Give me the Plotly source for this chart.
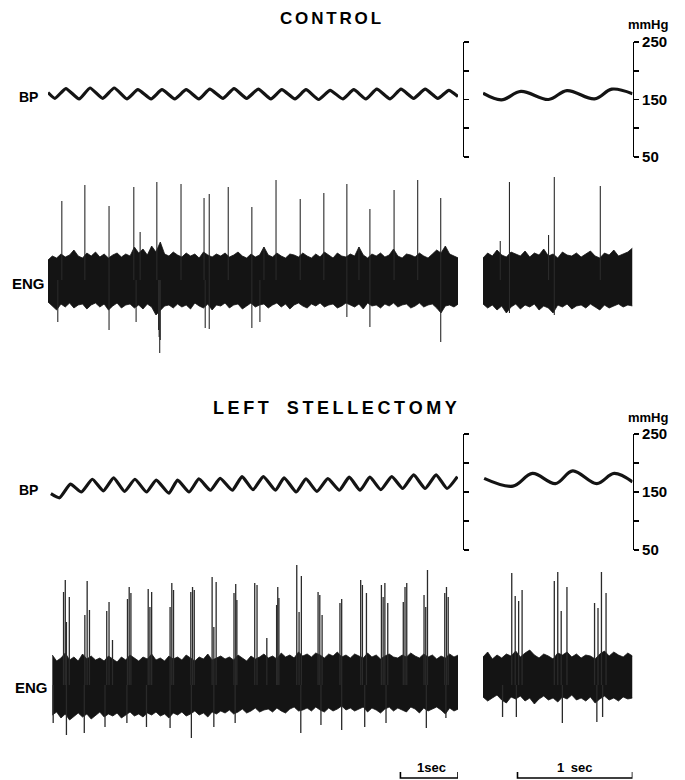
import plotly.graph_objects as go

W, H = 685, 780
def px(x): return x / W
def py(y): return 1 - y / H

# ---------------- DATA ----------------
# Blood pressure (time s, mmHg) - peaks/troughs
bp_ctrl_left_t = [0.00, 0.12, 0.31, 0.54, 0.73, 0.95, 1.15, 1.37, 1.56, 1.79, 1.98, 2.20, 2.40, 2.62, 2.81, 3.04,
                  3.23, 3.45, 3.65, 3.87, 4.06, 4.29, 4.48, 4.70, 4.90, 5.12, 5.31, 5.52, 5.71, 5.94, 6.13, 6.35,
                  6.55, 6.77, 6.96, 7.12]
bp_ctrl_left_mmhg = [162, 152, 169, 151, 170, 152, 170, 151, 167, 151, 167, 151, 167, 151, 168, 152,
                     169, 152, 168, 151, 167, 151, 167, 150, 166, 151, 167, 151, 168, 151, 168, 152,
                     168, 152, 166, 155]
bp_ctrl_right_t = [0.00, 0.16, 0.33, 0.57, 0.73, 0.97, 1.12, 1.30]
bp_ctrl_right_mmhg = [161, 149.5, 164, 150, 165.5, 151, 168, 160]

bp_ls_left_t = [0.05, 0.20, 0.39, 0.58, 0.77, 0.96, 1.14, 1.33, 1.51, 1.71, 1.88, 2.10, 2.25, 2.45, 2.62, 2.82,
                2.99, 3.20, 3.37, 3.56, 3.74, 3.95, 4.10, 4.31, 4.48, 4.67, 4.86, 5.06, 5.23, 5.42, 5.59, 5.78,
                5.97, 6.16, 6.35, 6.55, 6.74, 6.93, 7.11]
bp_ls_left_mmhg = [147, 140, 163.5, 150, 172, 152, 174.5, 151, 172, 150, 170.5, 148, 170.5, 150, 172.5, 153,
                   173.5, 153, 176.5, 154, 176.5, 153, 174.5, 150, 172.5, 151, 173, 153, 175.5, 153, 175.5, 154,
                   176.5, 156, 179.5, 156, 179.5, 156, 176.5]
bp_ls_right_t = [0.01, 0.26, 0.43, 0.63, 0.78, 0.99, 1.14, 1.30]
bp_ls_right_mmhg = [173.5, 160, 182, 164.5, 186.5, 164.5, 182, 167.5]

bp_ticks = [50, 100, 150, 200, 250]
bp_tick_labels = ["50", "", "150", "", "250"]

# ENG background activity envelopes (arbitrary units, sampled evenly)
eng_ctrl_left_upper = [20, 24, 22, 26, 23, 25, 30, 24, 22, 27,
                       24, 28, 23, 26, 22, 25, 27, 23, 26, 24,
                       33, 27, 31, 25, 34, 28, 38, 26, 24, 28,
                       25, 23, 27, 24, 26, 22, 28, 25, 23, 26,
                       24, 27, 23, 25, 28, 24, 22, 26, 23, 25,
                       33, 25, 23, 27, 24, 22, 26, 25, 23, 27,
                       24, 22, 26, 23, 28, 25, 22, 27, 24, 23,
                       26, 24, 33, 25, 22, 26, 24, 27, 23, 25,
                       31, 24, 22, 26, 25, 23, 27, 24, 22, 26,
                       30, 27, 34, 26, 24, 22]
eng_ctrl_left_lower = [-22, -26, -30, -24, -27, -23, -28, -25, -24, -29,
                       -25, -23, -27, -24, -30, -26, -23, -28, -25, -24,
                       -28, -25, -29, -24, -27, -35, -30, -26, -25, -28,
                       -24, -27, -25, -29, -23, -26, -28, -24, -30, -25,
                       -26, -23, -28, -25, -24, -29, -26, -23, -27, -25,
                       -24, -28, -25, -23, -27, -24, -29, -25, -23, -26,
                       -28, -24, -26, -23, -27, -25, -24, -28, -26, -23,
                       -25, -27, -24, -29, -23, -26, -25, -28, -24, -26,
                       -23, -27, -25, -24, -28, -26, -23, -27, -25, -24,
                       -28, -33, -26, -25, -27, -24]
eng_ctrl_right_upper = [22, 27, 24, 30, 25, 23, 28, 26, 24, 29, 23, 27, 25, 31, 24, 26, 22, 28, 25, 24,
                        27, 23, 26, 29, 24, 22, 27, 25, 30, 24, 26, 28, 32]
eng_ctrl_right_lower = [-24, -28, -25, -30, -26, -33, -27, -24, -29, -25, -27, -24, -30, -26, -28, -33, -25,
                        -27, -24, -29, -26, -25, -28, -24, -27, -30, -25, -28, -26, -24, -27, -25, -26]

eng_ls_left_upper = [30, 24, 27, 32, 25, 28, 24, 31, 26, 29,
                     25, 27, 24, 29, 26, 23, 28, 25, 30, 27,
                     24, 28, 26, 31, 25, 27, 24, 29, 26, 28,
                     25, 30, 27, 24, 28, 26, 31, 25, 27, 29,
                     26, 28, 25, 30, 27, 24, 29, 26, 28, 31,
                     27, 29, 26, 32, 28, 30, 27, 33, 29, 31,
                     28, 32, 30, 27, 31, 29, 33, 28, 30, 27,
                     31, 29, 27, 32, 28, 30, 26, 29, 31, 28,
                     27, 30, 28, 32, 29, 27, 31, 28, 30, 26,
                     29, 27, 31, 28, 30]
eng_ls_left_lower = [-30, -27, -33, -29, -35, -31, -28, -32, -29, -34,
                     -30, -27, -32, -29, -31, -28, -33, -30, -27, -31,
                     -29, -32, -28, -30, -27, -31, -29, -33, -28, -30,
                     -27, -31, -29, -26, -30, -28, -32, -27, -29, -26,
                     -28, -25, -29, -27, -24, -28, -26, -23, -27, -25,
                     -24, -27, -23, -26, -28, -24, -22, -26, -25, -23,
                     -26, -22, -25, -27, -23, -26, -24, -21, -25, -23,
                     -26, -24, -22, -27, -23, -25, -28, -24, -22, -26,
                     -23, -25, -27, -22, -24, -28, -23, -26, -24, -22,
                     -25, -29, -23, -26, -24]
eng_ls_right_upper = [28, 33, 26, 30, 27, 31, 29, 34, 28, 32, 35, 30, 27, 31, 29, 26, 32, 30, 33, 28,
                      31, 27, 30, 29, 26, 31, 34, 29, 33, 30, 28, 32, 29]
eng_ls_right_lower = [-12, -16, -13, -10, -15, -18, -12, -14, -11, -16, -13, -19, -14, -11, -15, -13, -17,
                      -12, -14, -10, -15, -13, -16, -12, -18, -14, -11, -15, -13, -16, -12, -14, -13]

# ENG spikes: times (s) and amplitudes (a.u.)
sp_ctrl_left_t = [0.24, 0.64, 1.06, 1.49, 1.60, 1.89, 2.31, 2.71, 2.80, 3.13, 3.54, 3.75, 3.96, 4.38,
                  4.79, 5.19, 5.40, 5.59, 6.01, 6.42, 6.82]
sp_ctrl_left_a = [79, 95, 74, 93, 48, 98, 96, 82, 86, 93, 73, 33, 100, 81, 87, 96, 33, 71, 90, 100, 82]
dn_ctrl_left_t = [0.17, 1.06, 1.53, 1.92, 1.93, 1.94, 1.95, 2.73, 2.80, 3.54, 3.68, 5.19, 5.59, 6.82]
dn_ctrl_left_a = [-42, -50, -42, -50, -57, -73, -60, -48, -49, -48, -42, -37, -47, -62]
sp_ctrl_right_t = [0.15, 0.23, 0.57, 0.62, 1.02]
sp_ctrl_right_a = [39, 98, 45, 103, 94]
dn_ctrl_right_t = [0.23, 0.62]
dn_ctrl_right_a = [-33, -35]

sp_ls_left_t = [0.27, 0.30, 0.32, 0.37, 0.64, 0.68, 0.72, 1.02, 1.06, 1.12, 1.38, 1.41, 1.44, 1.74, 1.77,
                1.80, 2.12, 2.15, 2.18, 2.48, 2.51, 2.54, 2.85, 2.88, 2.92, 3.23, 3.26, 3.28, 3.59, 3.63,
                3.80, 3.97, 3.99, 4.01, 4.32, 4.36, 4.40, 4.69, 4.72, 4.76, 5.07, 5.10, 5.43, 5.46, 5.53,
                5.79, 5.82, 5.85, 5.90, 6.17, 6.20, 6.23, 6.53, 6.56, 6.59, 6.89, 6.92, 6.95]
sp_ls_left_a = [93, 105, 63, 88, 70, 104, 75, 74, 83, 45, 86, 98, 92, 96, 78,
                93, 78, 102, 95, 93, 98, 95, 108, 58, 103, 92, 101, 85, 102, 100,
                47, 80, 98, 87, 120, 73, 109, 93, 90, 70, 82, 86, 105, 100, 92,
                100, 88, 102, 82, 83, 98, 102, 90, 78, 115, 92, 98, 88]
dn_ls_left_t = [0.09, 0.32, 0.63, 0.99, 1.37, 1.71, 2.12, 2.49, 2.88, 3.25, 4.39, 4.74, 5.10, 5.50, 5.87,
                6.57, 6.91]
dn_ls_left_a = [-38, -50, -48, -42, -38, -42, -43, -53, -42, -38, -48, -40, -45, -42, -38, -43, -33]
sp_ls_right_t = [0.25, 0.28, 0.31, 0.34, 0.62, 0.65, 0.68, 0.73, 0.97, 1.00, 1.03, 1.07]
sp_ls_right_a = [112, 89, 84, 95, 104, 113, 74, 98, 82, 77, 113, 92]
dn_ls_right_t = [0.17, 0.29, 0.69, 0.99, 1.04]
dn_ls_right_a = [-32, -32, -38, -37, -32]

scale_bar_s = 1.0
left_span_s = 7.12
right_span_s = 1.30

# ---------------- FIGURE ----------------
INK = "#141414"
fig = go.Figure()


def add_bp(t, v, ax, smoothing):
    fig.add_trace(go.Scatter(x=t, y=v, mode="lines", xaxis="x" + ax, yaxis="y" + ax,
                             line=dict(color=INK, width=3.2, shape="spline", smoothing=smoothing),
                             hoverinfo="skip", showlegend=False))


def add_band(upper, lower, x0, dx, ax):
    fig.add_trace(go.Scatter(y=upper, x0=x0, dx=dx, mode="lines", xaxis="x" + ax, yaxis="y" + ax,
                             line=dict(color=INK, width=0.8), hoverinfo="skip", showlegend=False))
    fig.add_trace(go.Scatter(y=lower, x0=x0, dx=dx, mode="lines", xaxis="x" + ax, yaxis="y" + ax,
                             fill="tonexty", fillcolor=INK,
                             line=dict(color=INK, width=0.8), hoverinfo="skip", showlegend=False))


def add_spikes(t, a, ax, color="#2a2a2a", width=1.1):
    xs, ys = [], []
    for ti, ai in zip(t, a):
        xs += [ti, ti, None]
        ys += [0, ai, None]
    fig.add_trace(go.Scatter(x=xs, y=ys, mode="lines", xaxis="x" + ax, yaxis="y" + ax,
                             line=dict(color=color, width=width), hoverinfo="skip", showlegend=False))


add_bp(bp_ctrl_left_t, bp_ctrl_left_mmhg, "", 0.5)
add_bp(bp_ctrl_right_t, bp_ctrl_right_mmhg, "2", 1.0)
add_band(eng_ctrl_left_upper, eng_ctrl_left_lower, 0.0, 0.075, "3")
add_spikes(sp_ctrl_left_t, sp_ctrl_left_a, "3")
add_spikes(dn_ctrl_left_t, dn_ctrl_left_a, "3")
add_band(eng_ctrl_right_upper, eng_ctrl_right_lower, 0.0, 0.040625, "4")
add_spikes(sp_ctrl_right_t, sp_ctrl_right_a, "4")
add_spikes(dn_ctrl_right_t, dn_ctrl_right_a, "4")
add_bp(bp_ls_left_t, bp_ls_left_mmhg, "5", 0.5)
add_bp(bp_ls_right_t, bp_ls_right_mmhg, "6", 1.0)
add_band(eng_ls_left_upper, eng_ls_left_lower, 0.075, 0.075, "7")
add_spikes(sp_ls_left_t, sp_ls_left_a, "7", width=1.3)
add_spikes(dn_ls_left_t, dn_ls_left_a, "7", width=1.3)
add_band(eng_ls_right_upper, eng_ls_right_lower, 0.0, 0.040625, "8")
add_spikes(sp_ls_right_t, sp_ls_right_a, "8", width=1.3)
add_spikes(dn_ls_right_t, dn_ls_right_a, "8", width=1.3)

FONT = "Liberation Sans"
left_dom = [px(48), px(458)]
right_dom = [px(483), px(632.5)]
hidden = dict(visible=False, showgrid=False, zeroline=False, fixedrange=True)

bp_axis_common = dict(range=[50, 250], tickvals=bp_ticks, showline=True, linecolor="black", linewidth=1.6,
                      ticks="outside", ticklen=5, tickwidth=1.6, tickcolor="black", showgrid=False,
                      zeroline=False, side="right", fixedrange=True, automargin=False)

layout = dict(
    width=W, height=H, margin=dict(l=0, r=0, t=0, b=0, pad=0, autoexpand=False),
    paper_bgcolor="white", plot_bgcolor="rgba(0,0,0,0)", showlegend=False,
    xaxis=dict(domain=left_dom, range=[0, left_span_s], anchor="y", **hidden),
    yaxis=dict(domain=[py(157), py(42)], anchor="free", position=px(462.5), showticklabels=False,
               **bp_axis_common),
    xaxis2=dict(domain=right_dom, range=[0, right_span_s], anchor="y2", **hidden),
    yaxis2=dict(domain=[py(157), py(42)], anchor="x2", ticktext=bp_tick_labels, showticklabels=True,
                tickfont=dict(family=FONT, size=15, color="black", weight="bold"), **bp_axis_common),
    xaxis3=dict(domain=left_dom, range=[0, left_span_s], anchor="y3", **hidden),
    yaxis3=dict(domain=[py(362), py(170)], range=[-82, 110], anchor="x3", **hidden),
    xaxis4=dict(domain=right_dom, range=[0, right_span_s], anchor="y4", **hidden),
    yaxis4=dict(domain=[py(362), py(170)], range=[-82, 110], anchor="x4", **hidden),
    xaxis5=dict(domain=left_dom, range=[0, left_span_s], anchor="y5", **hidden),
    yaxis5=dict(domain=[py(550), py(434)], anchor="free", position=px(462.5), showticklabels=False,
                **bp_axis_common),
    xaxis6=dict(domain=right_dom, range=[0, right_span_s], anchor="y6", **hidden),
    yaxis6=dict(domain=[py(550), py(434)], anchor="x6", ticktext=bp_tick_labels, showticklabels=True,
                tickfont=dict(family=FONT, size=15, color="black", weight="bold"), **bp_axis_common),
    xaxis7=dict(domain=left_dom, range=[0, left_span_s], anchor="y7", **hidden),
    yaxis7=dict(domain=[py(752), py(558)], range=[-67, 127], anchor="x7", **hidden),
    xaxis8=dict(domain=right_dom, range=[0, right_span_s], anchor="y8", **hidden),
    yaxis8=dict(domain=[py(752), py(558)], range=[-67, 127], anchor="x8", **hidden),
)
fig.update_layout(**layout)


def label(text, x, y, size=13, xanchor="center"):
    return dict(text=text, x=px(x), y=py(y), xref="paper", yref="paper", showarrow=False,
                xanchor=xanchor, yanchor="middle",
                font=dict(family=FONT, size=size, color="black", weight="bold"))


sp = "\u2006"
ws = "\u2009"
annotations = [
    label(sp.join("CONTROL"), 330, 18, size=17),
    label(ws.join("LEFT") + "\u2003" + ws.join("STELLECTOMY"), 335, 408, size=18),
    label("BP", 28, 97, size=14),
    label("BP", 28, 490, size=14),
    label("ENG", 28, 283, size=15),
    label("ENG", 32, 687, size=15),
    label("mmHg", 648, 24, size=13),
    label("mmHg", 648, 417, size=13),
    label("1sec", 431, 767, size=13),
    label("1\u2002sec", 574, 767, size=13),
]
fig.update_layout(annotations=annotations)


def scale_bar(xref, t_end):
    t0 = t_end - scale_bar_s
    return dict(type="path", xref=xref, yref="paper",
                path=f"M {t0},{py(772)} L {t0},{py(778)} L {t_end},{py(778)} L {t_end},{py(772)}",
                line=dict(color="black", width=1.6))


fig.update_layout(shapes=[scale_bar("x7", left_span_s), scale_bar("x8", right_span_s)])

fig.write_html("out.html", config={"displayModeBar": False, "staticPlot": True},
               post_script="document.body.style.margin='0';document.body.style.overflow='hidden';")
